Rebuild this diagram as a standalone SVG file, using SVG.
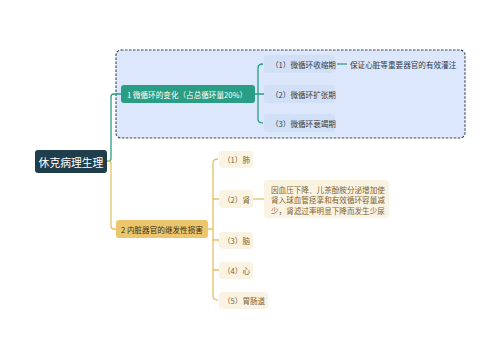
<svg xmlns="http://www.w3.org/2000/svg" width="500" height="360" viewBox="0 0 500 360">
<style>
text{font-family:"Noto Sans CJK SC","Noto Sans",sans-serif;dominant-baseline:central}
.t{font-size:7.6px}
.teal{fill:none;stroke:#2a9d85;stroke-width:1.3}
.gold{fill:none;stroke:#e6c068;stroke-width:1.3}
.c1{fill:#d2e0f7}
.c2{fill:#fbf3e2}
.ct1{fill:#333a44}
.ct2{fill:#7d6430}
</style>
<rect width="500" height="360" fill="#ffffff"/>
<rect x="116" y="50" width="349" height="88" rx="5" fill="#dce7fb" stroke="#3c444c" stroke-width="1.1" stroke-dasharray="2.5,1.5"/>
<g id="connectors">
<path class="teal" d="M107,161 H109 Q111,161 111,158 V97 Q111,94 114,94 H121"/>
<path class="gold" d="M107,161 H109 Q111,161 111,164 V226 Q111,229 114,229 H116"/>
<path class="teal" d="M263,64 Q258,64 258,68 V119 Q258,123 263,123 M255,94 H264"/>
<path class="teal" d="M337,64 H347"/>
<path class="gold" d="M218,159 Q213,159 213,163 V296 Q213,300 218,300 M208,229 H213 M213,199 H219 M213,240 H219 M213,270 H219"/>
<path class="gold" d="M253,199 H264"/>
</g>
<g id="root">
<rect x="35" y="150" width="72" height="23" rx="3" fill="#1f3d4a"/>
<text x="71" y="161.5" font-size="10.8" fill="#ffffff" text-anchor="middle">休克病理生理</text>
</g>
<g id="b1">
<rect x="121" y="85" width="134" height="18" rx="3" fill="#2a9d85"/>
<text class="t" x="127" y="94" fill="#ffffff">1 微循环的变化（占总循环量20%）</text>
</g>
<g id="b1c1">
<rect class="c1" x="264" y="55" width="71" height="18" rx="3"/>
<text class="t ct1" x="271" y="64">（1）微循环收缩期</text>
</g>
<g id="b1c1d">
<text class="t ct1" x="350" y="64">保证心脏等重要器官的有效灌注</text>
</g>
<g id="b1c2">
<rect class="c1" x="264" y="85" width="71" height="18" rx="3"/>
<text class="t ct1" x="271" y="94">（2）微循环扩张期</text>
</g>
<g id="b1c3">
<rect class="c1" x="264" y="114" width="71" height="18" rx="3"/>
<text class="t ct1" x="271" y="123">（3）微循环衰竭期</text>
</g>
<g id="b2">
<rect x="116" y="220" width="92" height="18" rx="3" fill="#ebc66c"/>
<text class="t" x="121" y="229" fill="#3a2f1c">2 内脏器官的继发性损害</text>
</g>
<g id="b2c1">
<rect class="c2" x="219" y="151" width="34" height="17" rx="3"/>
<text class="t ct2" x="223" y="159.5">（1）肺</text>
</g>
<g id="b2c2">
<rect class="c2" x="219" y="190" width="34" height="18" rx="3"/>
<text class="t ct2" x="223" y="199">（2）肾</text>
</g>
<g id="b2c2d">
<rect class="c2" x="264" y="180" width="125" height="38" rx="3"/>
<text class="t ct2" x="271" y="189">因血压下降、儿茶酚胺分泌增加使</text>
<text class="t ct2" x="271" y="199.5">肾入球血管痉挛和有效循环容量减</text>
<text class="t ct2" x="271" y="210">少，肾滤过率明显下降而发生少尿</text>
</g>
<g id="b2c3">
<rect class="c2" x="219" y="232" width="34" height="17" rx="3"/>
<text class="t ct2" x="223" y="240.5">（3）脑</text>
</g>
<g id="b2c4">
<rect class="c2" x="219" y="262" width="34" height="17" rx="3"/>
<text class="t ct2" x="223" y="270.5">（4）心</text>
</g>
<g id="b2c5">
<rect class="c2" x="219" y="292" width="49" height="17" rx="3"/>
<text class="t ct2" x="223" y="300.5">（5）胃肠道</text>
</g>
</svg>
